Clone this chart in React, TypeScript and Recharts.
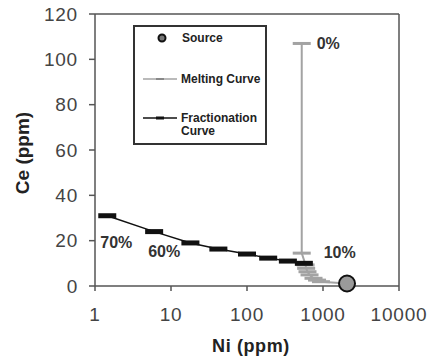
import React from 'react';
import {
  ScatterChart, Scatter, XAxis, YAxis, ReferenceLine, Legend,
} from 'recharts';

// fractionation curve (70% -> 10% melt residue)
const fracNi = [1.45, 6, 18, 42, 100, 190, 345, 560];
const fracCe = [31, 24, 19, 16.3, 14.1, 12.3, 11, 10];

// melting curve (0% at top, then down to the source)
const meltNi = [525, 525, 590, 600, 625, 665, 750, 835, 940];
const meltCe = [107, 14.5, 9.3, 7.8, 6.3, 4.9, 3.4, 2.6, 1.9];

const sourceNi = 2070;
const sourceCe = 1.1;

const pctText = ['0%', '10%', '70%', '60%'];
const pctNi = [525, 525, 1.45, 6];
const pctCe = [107, 14.5, 31, 24];

const xTicks = [1, 10, 100, 1000, 10000];
const yTicks = [0, 20, 40, 60, 80, 100, 120];

const FONT = '"Liberation Sans", Arial, sans-serif';
const AXIS = '#555';
const MELT = '#a3a3a3';
const FRAC = '#111';

const fracData = fracNi.map((x, i) => ({ x, y: fracCe[i] }));
const meltData = [
  ...meltNi.map((x, i) => ({ x, y: meltCe[i] })),
  { x: sourceNi, y: sourceCe, end: true },
];
const sourceData = [{ x: sourceNi, y: sourceCe }];
const pctData = pctText.map((text, i) => ({ x: pctNi[i], y: pctCe[i], text }));

// label offsets from their anchor point
const pctOffset: Record<string, { dx: number; dy: number }> = {
  '0%': { dx: 15, dy: 0 },
  '10%': { dx: 22, dy: -1 },
  '70%': { dx: -7, dy: 27 },
  '60%': { dx: -6, dy: 20 },
};

const FracMarker = (p: any) => (
  <rect x={p.cx - 9} y={p.cy - 2.5} width={18} height={5} fill={FRAC} />
);

const MeltMarker = (p: any) =>
  p.payload && p.payload.end ? <g /> : (
    <rect x={p.cx - 9} y={p.cy - 1.5} width={18} height={3} fill={MELT} />
  );

const SourceMarker = (p: any) => (
  <circle cx={p.cx} cy={p.cy} r={8} fill="#9a9a9a" stroke="#111" strokeWidth={2} />
);

const PctLabel = (p: any) => {
  const off = pctOffset[p.payload.text];
  return (
    <text
      x={p.cx + off.dx}
      y={p.cy + off.dy}
      dominantBaseline="central"
      fontFamily={FONT}
      fontWeight="bold"
      fontSize={16}
      fill="#333"
    >
      {p.payload.text}
    </text>
  );
};

const LegendBox = () => (
  <div
    style={{
      width: 134, height: 120, boxSizing: 'border-box',
      border: '2px solid #333', background: '#fff',
    }}
  >
    <svg width={130} height={116} style={{ display: 'block' }}>
      <circle cx={27} cy={11} r={3.5} fill="#777" stroke="#111" strokeWidth={2} />
      <line x1={8} x2={42} y1={52} y2={52} stroke={MELT} strokeWidth={1.5} />
      <rect x={21} y={51} width={8} height={2} fill="#888" />
      <line x1={8} x2={42} y1={91} y2={91} stroke={FRAC} strokeWidth={1.5} />
      <rect x={21} y={89.5} width={8} height={3} fill={FRAC} />
      <g fontFamily={FONT} fontWeight="bold" fontSize={12} fill="#222">
        <text x={47} y={11} dominantBaseline="central">Source</text>
        <text x={46} y={52} dominantBaseline="central">Melting Curve</text>
        <text x={46} y={91} dominantBaseline="central">Fractionation</text>
        <text x={46} y={104} dominantBaseline="central">Curve</text>
      </g>
    </svg>
  </div>
);

const XTitle = (p: any) => {
  const vb = p.viewBox;
  return (
    <text
      x={vb.x + vb.width / 2 + 4}
      y={vb.y + 60}
      textAnchor="middle"
      dominantBaseline="central"
      fontFamily={FONT}
      fontWeight="bold"
      fontSize={18}
      letterSpacing={0.6}
      fill="#222"
    >
      Ni (ppm)
    </text>
  );
};

const YTitle = (p: any) => {
  const vb = p.viewBox;
  const cx = vb.x - 13;
  const cy = vb.y + vb.height / 2 + 3;
  return (
    <text
      x={cx}
      y={cy}
      transform={`rotate(-90 ${cx} ${cy})`}
      textAnchor="middle"
      dominantBaseline="central"
      fontFamily={FONT}
      fontWeight="bold"
      fontSize={19}
      fill="#222"
    >
      Ce (ppm)
    </text>
  );
};

export default function App() {
  const tick = { fill: '#444', fontSize: 19, fontFamily: FONT, letterSpacing: 0.8 };
  return (
    <div style={{ position: 'absolute', left: 0, top: 0, width: 428, height: 361, background: '#fff' }}>
      <ScatterChart width={428} height={361} margin={{ top: 14, right: 29, bottom: 35, left: 35 }}>
        <XAxis
          type="number"
          dataKey="x"
          scale="log"
          domain={[1, 10000]}
          ticks={xTicks}
          allowDataOverflow
          height={40}
          tickSize={5}
          tickMargin={17}
          tick={tick}
          axisLine={{ stroke: AXIS, strokeWidth: 1.5 }}
          tickLine={{ stroke: AXIS, strokeWidth: 1.5 }}
          label={{ content: XTitle }}
        />
        <YAxis
          type="number"
          dataKey="y"
          domain={[0, 120]}
          ticks={yTicks}
          width={60}
          tickSize={6}
          tickMargin={11}
          tick={tick}
          axisLine={{ stroke: AXIS, strokeWidth: 1.5 }}
          tickLine={{ stroke: AXIS, strokeWidth: 1.5 }}
          label={{ content: YTitle }}
        />
        <ReferenceLine y={120} stroke={AXIS} strokeWidth={1.5} />
        <ReferenceLine x={10000} stroke={AXIS} strokeWidth={1.5} />
        <Legend
          layout="horizontal"
          verticalAlign="middle"
          align="center"
          wrapperStyle={{ left: 133, top: 25, width: 134, height: 120 }}
          content={LegendBox}
        />
        <Scatter
          name="Melting Curve"
          data={meltData}
          line={{ stroke: MELT, strokeWidth: 2 }}
          shape={MeltMarker}
          isAnimationActive={false}
        />
        <Scatter
          name="Fractionation Curve"
          data={fracData}
          line={{ stroke: FRAC, strokeWidth: 1.5 }}
          shape={FracMarker}
          isAnimationActive={false}
        />
        <Scatter name="Source" data={sourceData} shape={SourceMarker} isAnimationActive={false} />
        <Scatter name="labels" data={pctData} shape={PctLabel} legendType="none" isAnimationActive={false} />
      </ScatterChart>
    </div>
  );
}
